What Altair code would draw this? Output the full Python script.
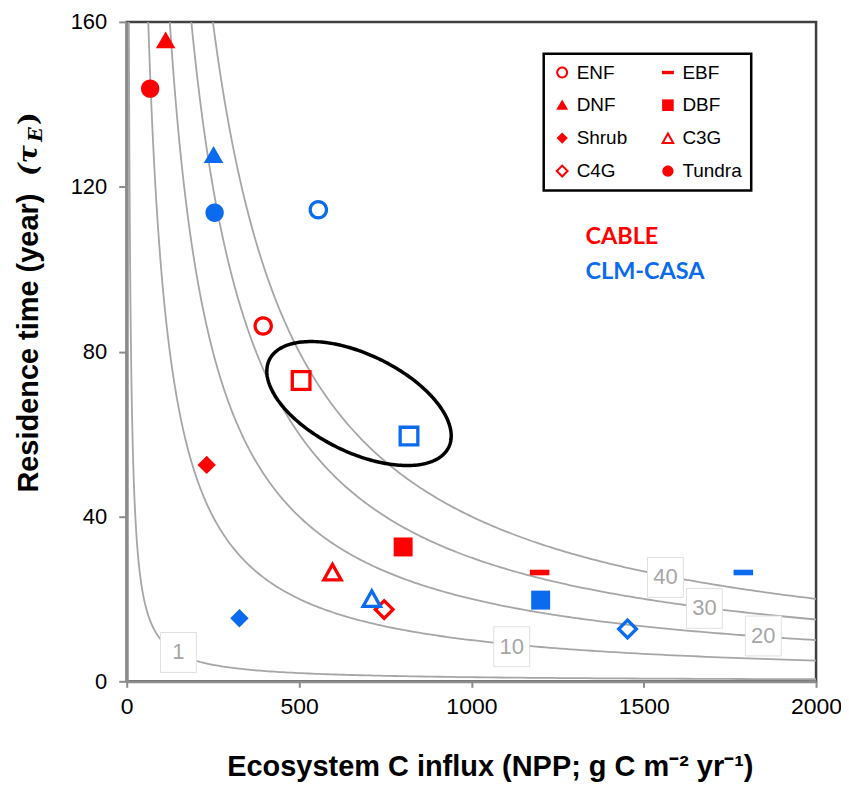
import math
import altair as alt
import numpy as np
import pandas as pd

# ---------------- data ----------------
X_MAX, Y_MAX = 2000, 160
W, H = 691, 661

# legend order (Vega fills the two legend columns top-to-bottom)
TYPES = ["ENF", "DNF", "Shrub", "C4G", "EBF", "DBF", "C3G", "Tundra"]

cable_type = ["ENF", "DNF", "Shrub", "C4G", "EBF", "DBF", "C3G", "Tundra"]
cable_npp = [396, 113, 232, 747, 1198, 802, 597, 68]
cable_tau = [86.2, 155.4, 52.5, 17.4, 26.4, 32.6, 26.5, 143.8]

clm_type = ["ENF", "DNF", "Shrub", "C4G", "EBF", "DBF", "C3G", "Tundra"]
clm_npp = [556, 252, 327, 1453, 1789, 1201, 711, 255]
clm_tau = [114.4, 127.6, 15.3, 12.7, 26.4, 19.7, 20.1, 113.7]

# ecosystem-wide means (open squares inside the ellipse)
mean_model = ["CABLE", "CLM-CASA"]
mean_npp = [506, 819]
mean_tau = [73.0, 59.5]

# carbon-storage isolines (kg C m-2) and their label positions
iso_levels = [1, 10, 20, 30, 40]
iso_label_npp = [150, 1117, 1847, 1676, 1563]
iso_label_tau = [7.0, 8.4, 11.0, 17.7, 25.2]

model_names = ["CABLE", "CLM-CASA"]
model_colors = ["#FF0000", "#0A6BEF"]
model_label_npp = [1331, 1331]
model_label_tau = [107.7, 99.3]

# ellipse annotation (centre in data units, semi-axes in screen px, tilt in degrees)
ell_center = [674, 67.4]
ell_axes_px = [100, 49]
ell_tilt = 26


# ---------------- marker shapes (SVG paths in unit box) ----------------
def poly(pts):
    return "M" + "L".join(f"{x:.3f},{y:.3f}" for x, y in pts) + "Z"


def _dist(p, q):
    return math.hypot(p[0] - q[0], p[1] - q[1])


def _incenter(pts):
    if len(pts) == 3:
        A, B, C = pts
        a, b, c = _dist(B, C), _dist(A, C), _dist(A, B)
        s = a + b + c
        return ((a * A[0] + b * B[0] + c * C[0]) / s, (a * A[1] + b * B[1] + c * C[1]) / s)
    return (sum(p[0] for p in pts) / len(pts), sum(p[1] for p in pts) / len(pts))


def _edge_dist(p, q, c):
    (x1, y1), (x2, y2) = p, q
    return abs((y2 - y1) * c[0] - (x2 - x1) * c[1] + x2 * y1 - y2 * x1) / _dist(p, q)


def ring(pts, d):
    c = _incenter(pts)
    r = min(_edge_dist(pts[i], pts[(i + 1) % len(pts)], c) for i in range(len(pts)))
    k = (r - d) / r
    inner = [(c[0] + k * (x - c[0]), c[1] + k * (y - c[1])) for x, y in pts][::-1]
    return poly(pts) + poly(inner)


def circle(r, sweep=0):
    return f"M{-r},0A{r},{r},0,1,{sweep},{r},0A{r},{r},0,1,{sweep},{-r},0Z"


def circle_ring(r, d):
    return circle(r, 0) + circle(r - d, 1)


def square(h):
    return [(-h, -h), (h, -h), (h, h), (-h, h)]


def diamond(h):
    return [(0, -h), (h, 0), (0, h), (-h, 0)]


SHAPE_PATHS = {
    "ENF": circle_ring(0.98, 0.33),
    "EBF": poly([(-0.98, -0.28), (0.98, -0.28), (0.98, 0.28), (-0.98, 0.28)]),
    "DNF": poly([(0, -0.95), (0.98, 0.75), (-0.98, 0.75)]),
    "DBF": poly(square(0.95)),
    "Shrub": poly(diamond(0.92)),
    "C3G": ring([(0, -1.1), (1.15, 0.95), (-1.15, 0.95)], 0.33),
    "C4G": ring(diamond(1.12), 0.33),
    "Tundra": circle(0.92),
}
OPEN_SQUARE = ring(square(1.05), 0.33)
LABEL_BOX = poly([(-0.9, -1.0), (0.9, -1.0), (0.9, 1.0), (-0.9, 1.0)])

# ---------------- tables ----------------
points = pd.DataFrame({
    "model": ["CABLE"] * len(cable_type) + ["CLM-CASA"] * len(clm_type),
    "type": cable_type + clm_type,
    "npp": cable_npp + clm_npp,
    "tau": cable_tau + clm_tau,
})
means = pd.DataFrame({"model": mean_model, "npp": mean_npp, "tau": mean_tau})

iso_rows = []
for lv in iso_levels:
    for x in np.geomspace(lv * 1000 / Y_MAX, X_MAX, 300):
        iso_rows.append({"level": lv, "npp": x, "tau": lv * 1000 / x})
iso = pd.DataFrame(iso_rows)
iso_lab = pd.DataFrame({"label": [str(v) for v in iso_levels],
                        "npp": iso_label_npp, "tau": iso_label_tau})

t = np.linspace(0, 2 * np.pi, 241)
th = math.radians(ell_tilt)
a_px, b_px = ell_axes_px
dx = a_px * np.cos(t) * math.cos(th) - b_px * np.sin(t) * math.sin(th)
dy = a_px * np.cos(t) * math.sin(th) + b_px * np.sin(t) * math.cos(th)
ell = pd.DataFrame({
    "i": np.arange(len(t)),
    "npp": ell_center[0] + dx * X_MAX / W,
    "tau": ell_center[1] - dy * Y_MAX / H,
})
model_lab = pd.DataFrame({"model": model_names, "npp": model_label_npp, "tau": model_label_tau})

# ---------------- encodings ----------------
x_enc = alt.X(
    "npp:Q",
    scale=alt.Scale(domain=[0, X_MAX], nice=False, zero=False),
    axis=alt.Axis(
        values=[0, 500, 1000, 1500, 2000], format="d", labelFont="Liberation Sans Narrow, Liberation Sans",
        labelFontSize=23, labelColor="black", tickSize=6, labelPadding=8,
        labelFlush=False, grid=False,
        title="Ecosystem C influx (NPP; g C m⁻² yr⁻¹)", titleFont="Liberation Sans",
        titleFontSize=29, titleFontWeight="bold", titleColor="black",
        titleX=364, titleY=94, titleBaseline="alphabetic",
    ),
)
y_enc = alt.Y(
    "tau:Q",
    scale=alt.Scale(domain=[0, Y_MAX], nice=False, zero=False),
    axis=alt.Axis(
        values=[0, 40, 80, 120, 160], format="d", labelFont="Liberation Sans", labelFontSize=22,
        labelColor="black", tickSize=8, labelPadding=12, labelFlush=False, grid=False,
        title=None,
    ),
)
color_enc = alt.Color("model:N", scale=alt.Scale(domain=model_names, range=model_colors), legend=None)

iso_lines = alt.Chart(iso).mark_line(color="#A6A6A6", strokeWidth=1.8, clip=True).encode(
    x=x_enc, y=y_enc, detail="level:N"
)
iso_boxes = alt.Chart(iso_lab).mark_point(
    shape=LABEL_BOX, size=1600, filled=True, fill="white", stroke="#E0E0E0", strokeWidth=1, opacity=1
).encode(x=x_enc, y=y_enc)
iso_text = alt.Chart(iso_lab).mark_text(
    font="Liberation Sans", fontSize=22, color="#A6A6A6", align="center", baseline="middle"
).encode(x=x_enc, y=y_enc, text="label:N")

ellipse = alt.Chart(ell).mark_line(color="black", strokeWidth=3.5).encode(
    x=x_enc, y=y_enc, order="i:Q"
)

mean_pts = alt.Chart(means).mark_point(
    filled=True, size=400, opacity=1, strokeWidth=0, shape=OPEN_SQUARE
).encode(x=x_enc, y=y_enc, color=color_enc)

pts = alt.Chart(points).mark_point(filled=True, size=400, opacity=1, strokeWidth=0).encode(
    x=x_enc, y=y_enc, color=color_enc,
    shape=alt.Shape(
        "type:N",
        scale=alt.Scale(domain=TYPES, range=[SHAPE_PATHS[k] for k in TYPES]),
        legend=alt.Legend(
            title=None, orient="none", legendX=418, legendY=32, columns=2,
            symbolSize=150, symbolFillColor="#FF0000", symbolStrokeWidth=0,
            labelFont="Liberation Sans", labelFontSize=19, labelColor="black",
            labelOffset=5, padding=9, rowPadding=13, columnPadding=31,
            strokeColor="black",
        ),
    ),
)

model_text = alt.Chart(model_lab).mark_text(
    font="Lato", fontWeight="bold", fontSize=23.5, align="left", baseline="middle"
).encode(x=x_enc, y=y_enc, text="model:N", color=color_enc)

ytitle = alt.Chart(pd.DataFrame({"t": ["Residence time (year)"]})).mark_text(
    font="Liberation Sans", fontWeight="bold", fontSize=29, angle=270,
    align="center", baseline="middle", color="black"
).encode(text="t:N", x=alt.value(-98), y=alt.value(322))
ytau = alt.Chart(pd.DataFrame({"t": ["(τ"]})).mark_text(
    font="DejaVu Serif", fontWeight="bold", fontStyle="italic", fontSize=27, angle=270,
    align="center", baseline="middle", color="black"
).encode(text="t:N", x=alt.value(-98), y=alt.value(139))
ysub = alt.Chart(pd.DataFrame({"t": ["E"]})).mark_text(
    font="DejaVu Serif", fontWeight="bold", fontStyle="italic", fontSize=19, angle=270,
    align="center", baseline="middle", color="black"
).encode(text="t:N", x=alt.value(-91), y=alt.value(113))
yclose = alt.Chart(pd.DataFrame({"t": [")"]})).mark_text(
    font="DejaVu Serif", fontWeight="bold", fontSize=27, angle=270,
    align="center", baseline="middle", color="black"
).encode(text="t:N", x=alt.value(-98), y=alt.value(97))

chart = alt.layer(
    iso_lines, iso_boxes, iso_text, ellipse, mean_pts, pts, model_text,
    ytitle, ytau, ysub, yclose,
).resolve_scale(shape="independent").properties(
    width=W, height=H,
    autosize=alt.AutoSizeParams(type="none"),
    padding={"left": 119, "top": 13, "right": 25, "bottom": 100},
).configure_view(
    stroke="#404040", strokeWidth=2.5
).configure_axis(
    domainColor="#8C8C8C", domainWidth=3, tickColor="#8C8C8C", tickWidth=2
).configure_legend(
    strokeWidth=2.5
)

chart.save("out.html", embed_options={"renderer": "svg", "actions": False})
